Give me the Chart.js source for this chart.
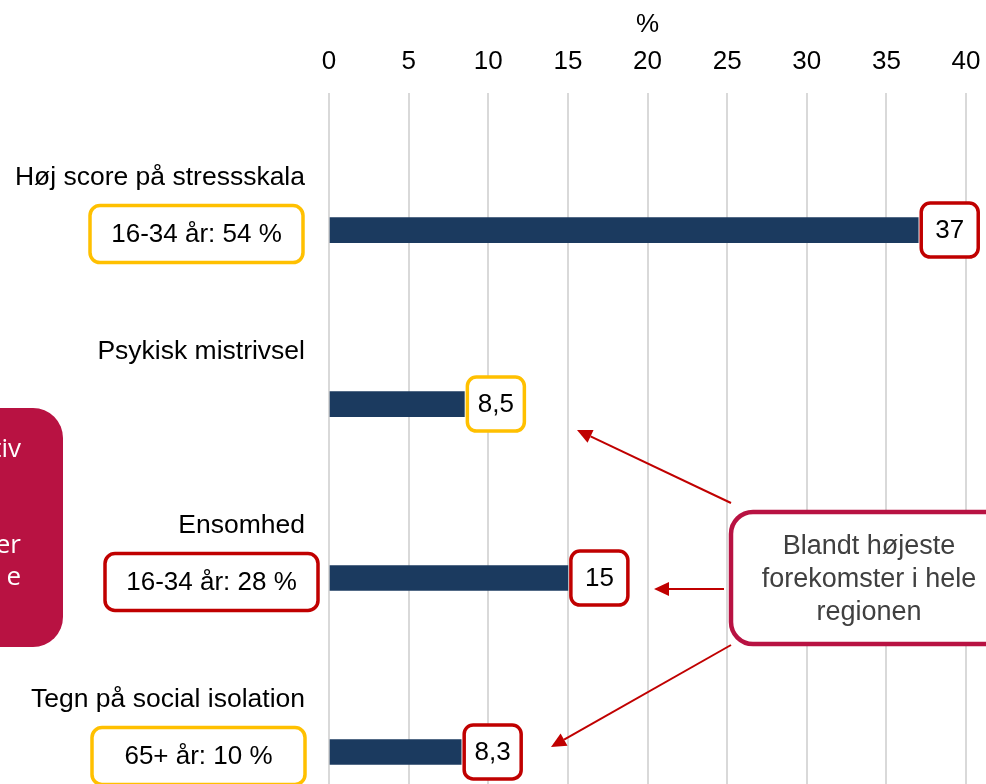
<!DOCTYPE html>
<html>
<head>
<meta charset="utf-8">
<script src="https://cdn.jsdelivr.net/npm/chart.js@4.4.1/dist/chart.umd.min.js"></script>
<style>
  html, body { margin: 0; padding: 0; background: #fff; overflow: hidden; }
  canvas { display: block; }
</style>
</head>
<body>
<canvas id="chart" width="986" height="784"></canvas>
<script>
// data
var categories = ["Høj score på stressskala", "Psykisk mistrivsel", "Ensomhed", "Tegn på social isolation"];
var values = [37, 8.5, 15, 8.3];
var valueFrames = ["#C00000", "#FFC000", "#C00000", "#C00000"];
var ageNotes = ["16-34 år: 54 %", null, "16-34 år: 28 %", "65+ år: 10 %"];
var ageFrames = ["#FFC000", null, "#C00000", "#FFC000"];
var xTicks = [0, 5, 10, 15, 20, 25, 30, 35, 40];
var axisTitle = "%";
var calloutLines = ["Blandt højeste", "forekomster i hele", "regionen"];
var sideLines = ["tiv", "", "", "er", "e"];

var FONT = "Arial, 'Liberation Sans', sans-serif";

function roundRect(ctx, x, y, w, h, r) {
    ctx.beginPath();
    ctx.moveTo(x + r, y);
    ctx.lineTo(x + w - r, y);
    ctx.arcTo(x + w, y, x + w, y + r, r);
    ctx.lineTo(x + w, y + h - r);
    ctx.arcTo(x + w, y + h, x + w - r, y + h, r);
    ctx.lineTo(x + r, y + h);
    ctx.arcTo(x, y + h, x, y + h - r, r);
    ctx.lineTo(x, y + r);
    ctx.arcTo(x, y, x + r, y, r);
    ctx.closePath();
}

function arrow(ctx, x1, y1, x2, y2) {
    var a = Math.atan2(y2 - y1, x2 - x1);
    var len = 15, half = 7;
    var bx = x2 - len * Math.cos(a), by = y2 - len * Math.sin(a);
    ctx.strokeStyle = "#C00000";
    ctx.fillStyle = "#C00000";
    ctx.lineWidth = 2;
    ctx.beginPath();
    ctx.moveTo(x1, y1);
    ctx.lineTo(bx, by);
    ctx.stroke();
    ctx.beginPath();
    ctx.moveTo(x2, y2);
    ctx.lineTo(bx + half * Math.sin(a), by - half * Math.cos(a));
    ctx.lineTo(bx - half * Math.sin(a), by + half * Math.cos(a));
    ctx.closePath();
    ctx.fill();
}

// right edges of the age boxes, in pixels
var noteRight = [303, null, 318, 305];

var overlay = {
    id: "overlay",
    afterDatasetsDraw: function (chart) {
        var ctx = chart.ctx;
        var area = chart.chartArea;
        var bars = chart.getDatasetMeta(0).data;
        ctx.save();

        // axis title
        ctx.font = "26px " + FONT;
        ctx.fillStyle = "#000";
        ctx.textAlign = "center";
        ctx.textBaseline = "middle";
        ctx.fillText(axisTitle, (area.left + area.right) / 2, 25);

        // category labels and age boxes
        bars.forEach(function (bar, i) {
            ctx.font = "26.5px " + FONT;
            ctx.fillStyle = "#000";
            ctx.textAlign = "right";
            ctx.textBaseline = "middle";
            ctx.fillText(categories[i], 305, bar.y - 52);

            ctx.font = "26px " + FONT;
            if (ageNotes[i]) {
                var w = 213, h = 57;
                var bx = noteRight[i] - w, by = bar.y + 4 - h / 2;
                roundRect(ctx, bx, by, w, h, 10);
                ctx.fillStyle = "#fff";
                ctx.fill();
                ctx.lineWidth = 3.5;
                ctx.strokeStyle = ageFrames[i];
                ctx.stroke();
                ctx.fillStyle = "#000";
                ctx.textAlign = "center";
                ctx.fillText(ageNotes[i], bx + w / 2, by + h / 2 + 1);
            }

            // value box
            var vx = bar.x + 3, vy = bar.y - 27;
            roundRect(ctx, vx, vy, 57, 54, 9);
            ctx.fillStyle = "#fff";
            ctx.fill();
            ctx.lineWidth = 3.5;
            ctx.strokeStyle = valueFrames[i];
            ctx.stroke();
            ctx.fillStyle = "#000";
            ctx.textAlign = "center";
            ctx.fillText(String(values[i]).replace(".", ","), vx + 28.5, bar.y + 1);
        });

        // left side box (cut off by the page edge)
        roundRect(ctx, -60, 408, 123, 239, 30);
        ctx.fillStyle = "#B81242";
        ctx.fill();
        ctx.fillStyle = "#fff";
        ctx.font = "26px 'Open Sans', sans-serif";
        ctx.textAlign = "right";
        ctx.textBaseline = "alphabetic";
        sideLines.forEach(function (t, k) {
            if (t) ctx.fillText(t, 21, 457 + k * 32);
        });

        // callout
        roundRect(ctx, 731, 512, 290, 132, 22);
        ctx.fillStyle = "#fff";
        ctx.fill();
        ctx.lineWidth = 4.5;
        ctx.strokeStyle = "#B81242";
        ctx.stroke();
        ctx.fillStyle = "#404040";
        ctx.font = "27px " + FONT;
        ctx.textAlign = "center";
        ctx.textBaseline = "middle";
        calloutLines.forEach(function (t, k) {
            ctx.fillText(t, 869, 547 + k * 33);
        });

        arrow(ctx, 731, 503, 577, 430);
        arrow(ctx, 724, 589, 654, 589);
        arrow(ctx, 731, 645, 551, 747);

        ctx.restore();
    }
};

new Chart(document.getElementById("chart"), {
    type: "bar",
    data: {
        datasets: [{
            data: values.map(function (v, i) { return { x: v, y: i }; }),
            backgroundColor: "#1B3A5F",
            barThickness: 25
        }]
    },
    options: {
        indexAxis: "y",
        responsive: false,
        devicePixelRatio: 1,
        animation: false,
        layout: { padding: { left: 329, right: 20, top: 30, bottom: 0 } },
        plugins: { legend: { display: false }, tooltip: { enabled: false } },
        scales: {
            x: {
                type: "linear",
                position: "top",
                min: 0,
                max: 40,
                afterBuildTicks: function (axis) {
                    axis.ticks = xTicks.map(function (v) { return { value: v }; });
                },
                afterFit: function (axis) {
                    axis.paddingLeft = 0;
                    axis.paddingRight = 0;
                },
                ticks: { color: "#000", font: { family: FONT, size: 26 }, padding: 16 },
                grid: { color: "#D9D9D9", lineWidth: 2, drawTicks: false },
                border: { display: false }
            },
            y: {
                type: "linear",
                reverse: true,
                offset: false,
                min: -0.787,
                max: 3.184,
                display: false
            }
        }
    },
    plugins: [overlay]
});
</script>
</body>
</html>
